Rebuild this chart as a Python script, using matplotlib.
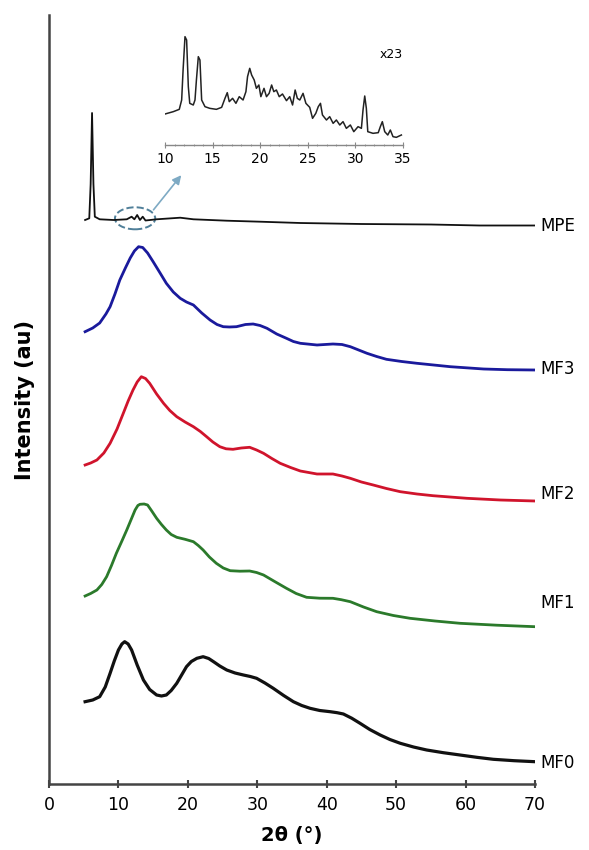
import matplotlib
matplotlib.use("Agg")
import matplotlib.pyplot as plt
from matplotlib.patches import Ellipse
from matplotlib.ticker import MultipleLocator

# ── data (2θ in degrees, intensity in arbitrary units, curves stacked) ──────
mpe_x = [5.2, 5.8, 6.0, 6.2, 6.4, 6.6, 7.3, 9.3, 11.2, 11.9, 12.3, 12.7, 13.1,
         13.5, 13.9, 15.5, 18.9, 20.8, 25.6, 30.4, 36.2, 45, 55, 62, 70]
mpe_y = [564, 565.7, 600, 671, 600, 567.3, 564.7, 564, 564.7, 567.3, 564.7, 569,
         564, 567.3, 563.5, 564.7, 566.3, 564.7, 563.3, 562.3, 561, 560, 559.5,
         558.5, 558.5]

mf3_x = [5.2, 6.3, 7.3, 8.2, 8.8, 9.5, 10.2, 11.0, 11.7, 12.3, 12.9, 13.5, 14.2,
         15.0, 16.0, 16.9, 17.9, 18.9, 19.8, 20.8, 22.0, 23.2, 24.2, 25.1, 26.0,
         27.0, 28.3, 29.4, 30.4, 31.4, 32.8, 34.2, 35.2, 36.2, 38.6, 40.9, 42.2,
         43.4, 44.6, 45.8, 47.2, 48.6, 50.8, 53.0, 57.8, 62.6, 66, 70]
mf3_y = [452.3, 456, 461, 470, 477.3, 490, 504, 516, 526, 533, 537.3, 536.5, 531,
         522.3, 511, 500.7, 492, 485.7, 482, 479, 471, 464, 459.5, 457.3, 457,
         457.3, 459.5, 460, 458.5, 455.7, 450, 445.7, 442.5, 440.7, 439, 440,
         439.5, 437.3, 434, 430.7, 427.5, 424.7, 422.5, 420.7, 417.3, 415, 414.3,
         414]

mf2_x = [5.2, 6.0, 6.9, 7.9, 8.8, 9.8, 10.7, 11.4, 12.1, 12.7, 13.3, 13.9, 14.5,
         15.5, 16.5, 17.4, 18.4, 19.6, 20.8, 21.8, 22.7, 23.6, 24.6, 25.5, 26.5,
         27.7, 28.9, 29.9, 30.9, 32.1, 33.3, 34.8, 36.2, 38.6, 40.9, 42.2, 43.4,
         45.0, 46.7, 48.6, 50.6, 53.0, 55.3, 60.2, 65, 70]
mf2_y = [319, 321, 324, 331, 340.7, 355, 370.7, 383, 394, 402, 407.3, 405.5,
         400.7, 390, 380.7, 373.5, 367.3, 362, 357.3, 352.5, 347.3, 342, 337.3,
         335.2, 334.7, 336, 336.7, 334, 330.7, 325.5, 320.7, 316.5, 313, 310, 310,
         308, 305.7, 302, 299, 295.5, 292.3, 290, 288.3, 285.7, 284, 283]

mf1_x = [5.2, 6.0, 6.9, 7.6, 8.3, 9.0, 9.7, 10.5, 11.2, 11.8, 12.4, 12.8, 13.1,
         13.7, 14.2, 14.8, 15.5, 16.2, 16.9, 17.6, 18.4, 19.6, 20.8, 21.5, 22.2,
         23.1, 24.1, 25.1, 26.1, 27.5, 28.9, 29.9, 30.9, 32.5, 34.2, 35.6, 37.1,
         39.0, 40.9, 42.1, 43.4, 45.3, 47.2, 49.6, 52.0, 55.6, 59.2, 64.5, 70]
mf1_y = [188, 190.5, 194, 199.5, 207.3, 218.5, 230.7, 243, 254, 264, 274, 278.5,
         279.7, 280, 279, 273, 265.7, 259.5, 254, 249.5, 246.7, 244.7, 242.3,
         238.5, 234, 227, 220.7, 216, 213.3, 212.8, 213, 211.5, 209, 202.5, 195.7,
         190.5, 186.7, 185.8, 185.7, 184.3, 182.3, 177, 172.3, 168.5, 165.7, 163,
         160.7, 158.8, 157.3]

mf0_x = [5.2, 6.3, 7.3, 8.1, 8.8, 9.4, 10.0, 10.5, 10.9, 11.4, 11.9, 12.7, 13.6,
         14.5, 15.5, 16.2, 16.9, 17.6, 18.4, 19.1, 19.8, 20.5, 21.3, 22.2, 23.0,
         23.7, 24.6, 25.6, 26.8, 28.0, 29.0, 29.9, 31.1, 32.3, 33.8, 35.2, 36.4,
         37.6, 39.0, 40.5, 41.5, 42.4, 43.6, 44.8, 46.2, 47.7, 49.1, 50.6, 52.5,
         54.4, 56.8, 59.2, 61.6, 64.0, 67, 70]
mf0_y = [82.3, 84, 87.3, 97, 110.7, 123, 134, 140, 142.3, 140, 134, 119, 104,
         94.5, 89, 88, 89, 93.5, 100.7, 109, 117.3, 122.5, 125.7, 127.3, 125.5,
         122.3, 118, 114, 111, 109, 107.5, 105.7, 101, 95.7, 88.5, 82.3, 78.5,
         75.7, 73.5, 72.3, 71.3, 70, 65.8, 60.7, 54.5, 49, 44.5, 40.7, 37, 34,
         31.3, 29, 26.7, 24.7, 23.3, 22.3]

# inset: MPE between 10 and 35°, magnified x23
ins_x = [10.0, 10.87, 11.5, 11.75, 11.9, 12.1, 12.27, 12.45, 12.6, 12.97, 13.15,
         13.3, 13.5, 13.67, 13.85, 14.2, 14.7, 15.4, 15.95, 16.3, 16.54, 16.75,
         17.1, 17.45, 17.8, 18.2, 18.5, 18.67, 18.9, 19.1, 19.37, 19.6, 19.86,
         20.07, 20.4, 20.66, 20.94, 21.2, 21.43, 21.7, 22.0, 22.34, 22.76, 23.1,
         23.4, 23.67, 23.9, 24.16, 24.5, 24.8, 25.2, 25.5, 25.84, 26.1, 26.33,
         26.54, 26.96, 27.3, 27.66, 28.0, 28.36, 28.7, 29.05, 29.47, 29.83, 30.28,
         30.63, 30.8, 30.98, 31.15, 31.3, 31.85, 32.4, 32.62, 32.83, 33.08, 33.4,
         33.67, 33.95, 34.3, 34.83]
ins_y = [93, 100, 107, 135, 225, 325, 315, 175, 125, 120, 135, 195, 265, 255, 135,
         115, 110, 107, 113, 140, 157, 130, 140, 125, 145, 135, 160, 205, 230, 210,
         195, 170, 180, 145, 170, 145, 155, 180, 160, 165, 145, 153, 133, 145, 120,
         165, 140, 135, 155, 125, 113, 80, 95, 115, 125, 90, 75, 85, 65, 75, 60, 70,
         50, 60, 40, 55, 50, 105, 147, 110, 40, 35, 37, 55, 70, 40, 30, 45, 25, 23,
         30]

labels = ["MPE", "MF3", "MF2", "MF1", "MF0"]
label_y = [558, 415, 290, 181, 21]
colors = ["#111111", "#1a1a9c", "#d0142c", "#2b7a2b", "#111111"]
widths = [1.3, 2.0, 2.0, 2.0, 2.3]
curves = [(mpe_x, mpe_y), (mf3_x, mf3_y), (mf2_x, mf2_y), (mf1_x, mf1_y),
          (mf0_x, mf0_y)]

fig = plt.figure(figsize=(5.89, 8.5), dpi=100)
ax = fig.add_axes([49 / 589, 1 - 784 / 850, 486 / 589, 769 / 850])

for (xs, ys), c, lw in zip(curves, colors, widths):
    ax.plot(xs, ys, color=c, linewidth=lw, solid_joinstyle="round")

for name, yy in zip(labels, label_y):
    ax.text(70.8, yy, name, fontsize=12, va="center", ha="left", clip_on=False)

ax.set_xlim(0, 70)
ax.set_ylim(0, 769)
ax.xaxis.set_major_locator(MultipleLocator(10))
ax.set_yticks([])
for side in ("top", "right"):
    ax.spines[side].set_visible(False)
for side in ("left", "bottom"):
    ax.spines[side].set_color("#444444")
    ax.spines[side].set_linewidth(1.8)
ax.tick_params(axis="x", direction="inout", length=6, width=1.5,
               color="#444444", labelsize=12.5, pad=6)
ax.set_xlabel("2θ (°)", fontsize=14, fontweight="bold", labelpad=8)
ax.set_ylabel("Intensity (au)", fontsize=15, fontweight="bold", labelpad=10)

# dashed ring round the small MPE reflections, arrow to the inset
ax.add_patch(Ellipse((12.4, 565.7), 5.8, 22, fill=False, linestyle="--",
                     edgecolor="#4f7f99", linewidth=1.4))
ax.annotate("", xy=(19.3, 611), xytext=(14.8, 572),
            arrowprops=dict(arrowstyle="-|>", color="#7eaac4", lw=1.2,
                            mutation_scale=13))

# inset
ins = fig.add_axes([165 / 589, 1 - 145 / 850, 238 / 589, 110 / 850])
ins.plot(ins_x, ins_y, color="#222222", linewidth=1.1)
ins.set_xlim(10, 35)
ins.set_ylim(0, 330)
ins.patch.set_alpha(0)
ins.set_yticks([])
for side in ("top", "right", "left"):
    ins.spines[side].set_visible(False)
ins.spines["bottom"].set_color("#888888")
ins.spines["bottom"].set_linewidth(1.0)
ins.xaxis.set_major_locator(MultipleLocator(5))
ins.xaxis.set_minor_locator(MultipleLocator(1))
ins.tick_params(axis="x", which="major", direction="inout", length=4,
                color="#888888", labelsize=10, pad=3)
ins.tick_params(axis="x", which="minor", direction="inout", length=2,
                color="#888888")
ins.text(32.5, 260, "x23", fontsize=9)

fig.savefig("out.png", dpi=100)
